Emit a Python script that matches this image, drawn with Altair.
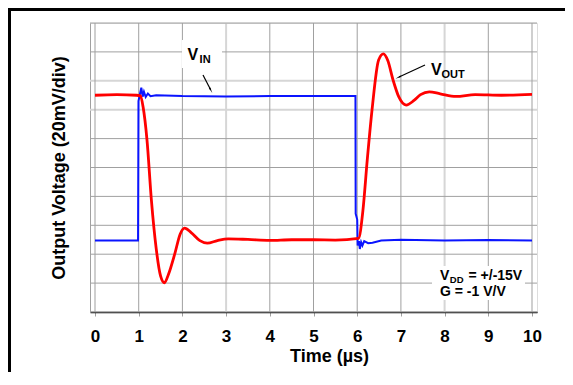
import altair as alt
import pandas as pd

# ---- data (time in µs, voltage in divisions of 20 mV) ----
t_out = [0.0, 0.5, 0.95, 1.04, 1.10, 1.19, 1.29, 1.40, 1.50, 1.59, 1.68, 1.83, 1.95, 2.05,
         2.20, 2.40, 2.57, 2.80, 3.05, 3.50, 4.00, 4.50, 5.00, 5.50, 6.03, 6.13, 6.23, 6.34,
         6.49, 6.60, 6.70, 6.82, 6.95, 7.12, 7.30, 7.45, 7.65, 7.90, 8.26, 8.70, 9.30, 10.0]
v_out = [7.50, 7.52, 7.50, 7.48, 7.10, 5.95, 3.88, 2.20, 1.25, 1.01, 1.30, 2.04, 2.70, 2.90,
         2.75, 2.47, 2.38, 2.47, 2.53, 2.51, 2.48, 2.50, 2.50, 2.49, 2.55, 3.50, 5.26, 7.00,
         8.72, 8.93, 8.70, 8.03, 7.45, 7.16, 7.32, 7.52, 7.62, 7.55, 7.46, 7.52, 7.50, 7.53]

t_in = [0.0, 0.50, 0.985, 0.995, 1.03, 1.06, 1.09, 1.12, 1.16, 1.21, 1.27, 1.40, 2.00, 3.00,
        4.00, 5.00, 5.96, 5.965, 6.00, 6.01, 6.04, 6.06, 6.09, 6.12, 6.16, 6.25, 6.35, 6.55,
        7.00, 8.00, 9.00, 10.0]
v_in = [2.47, 2.47, 2.47, 7.30, 7.55, 7.76, 7.45, 7.62, 7.44, 7.56, 7.47, 7.50, 7.47, 7.46,
        7.47, 7.47, 7.47, 3.40, 3.20, 2.30, 2.45, 2.18, 2.42, 2.30, 2.45, 2.38, 2.40, 2.47,
        2.50, 2.47, 2.49, 2.47]

x_ticks = list(range(11))
y_ticks = list(range(11))
x_light = [3, 8]
y_light = [7, 8]

x_title = "Time (µs)"
y_title = "Output Voltage (20mV/div)"

FONT = "Liberation Sans"
GRID = "#a0a0a0"
LIGHT = "#d6d6d6"
W, H = 447, 289

out_df = pd.DataFrame({"t": t_out, "v": v_out})
in_df = pd.DataFrame({"t": t_in, "v": v_in})

xscale = alt.Scale(domain=[0, 10], nice=False, zero=False)
yscale = alt.Scale(domain=[0, 10], nice=False, zero=False)

x_axis = alt.Axis(
    values=x_ticks, format="d", labelFlush=False, labelOverlap=False, grid=False,
    labelFont=FONT, labelFontSize=17, labelFontWeight="bold", labelColor="black",
    labelPadding=12, tickSize=4, tickColor=GRID,
    domainColor="black", domainWidth=1.5,
    title=x_title, titleFont=FONT, titleFontSize=18, titleFontWeight="bold", titleColor="black",
    titleX=239, titleY=49, titleBaseline="alphabetic", titleAlign="center",
)
y_axis = alt.Axis(
    values=y_ticks, labels=False, ticks=False, grid=False,
    domainColor=GRID, domainWidth=1,
    title=y_title, titleFont=FONT, titleFontSize=18, titleFontWeight="bold", titleColor="black",
    titlePadding=22,
)

vdark = [v for v in x_ticks if v not in x_light]
hdark = [v for v in y_ticks if v not in y_light]

def vgrid(vals, color, w):
    return alt.Chart(pd.DataFrame({"gx": vals})).mark_bar(color=color, size=w, opacity=1).encode(
        x=alt.X("gx:Q", scale=xscale), y=alt.value(0), y2=alt.value(H))

def hgrid(vals, color, w):
    return alt.Chart(pd.DataFrame({"hy": vals})).mark_rule(color=color, strokeWidth=w).encode(
        y=alt.Y("hy:Q", scale=yscale), x=alt.value(0), x2=alt.value(W))

vin_line = alt.Chart(in_df).mark_line(color="#0a14ff", strokeWidth=2).encode(
    x=alt.X("t:Q", scale=xscale, axis=x_axis),
    y=alt.Y("v:Q", scale=yscale, axis=y_axis),
    order="t:Q",
)
vout_line = alt.Chart(out_df).mark_line(color="#ff0000", strokeWidth=2.8, interpolate="monotone").encode(
    x=alt.X("t:Q", scale=xscale),
    y=alt.Y("v:Q", scale=yscale),
    order="t:Q",
)

_n = [0]
def one():
    _n[0] += 1
    return pd.DataFrame({"k": [_n[0]]})

def box(x1, x2, y1, y2):
    return alt.Chart(one()).mark_rect(color="white").encode(
        x=alt.value(x1), x2=alt.value(x2), y=alt.value(y1), y2=alt.value(y2))

def txt(s, x, y, size):
    return alt.Chart(one()).mark_text(
        text=s, align="left", baseline="alphabetic", font=FONT, fontWeight="bold",
        fontSize=size, color="black").encode(x=alt.value(x), y=alt.value(y))

def seg(x1, y1, x2, y2, w=1.2, color="black"):
    return alt.Chart(one()).mark_rule(color=color, strokeWidth=w).encode(
        x=alt.value(x1), y=alt.value(y1), x2=alt.value(x2), y2=alt.value(y2))

def head(x, y, ang):
    return alt.Chart(one()).mark_point(shape="wedge", filled=True, color="black", size=45,
                                     angle=ang, opacity=1).encode(x=alt.value(x), y=alt.value(y))

layers = [
    vgrid(x_light, LIGHT, 2), hgrid(y_light, LIGHT, 2),
    vgrid(vdark, GRID, 1), hgrid(hdark, GRID, 1),
    box(92, 132, 17, 45),
    box(342, 435, 243, 277),
    vin_line,
    vout_line,
    txt("V", 97.5, 37, 16), txt("IN", 109.6, 40.3, 11),
    seg(113, 52, 120.5, 66.5), head(120.5, 66.5, 152),
    txt("V", 341, 52, 16), txt("OUT", 351.5, 55.3, 11),
    seg(335, 42, 309, 54), head(309, 54, 245),
    txt("V", 350, 257, 14), txt("DD", 359.8, 259.5, 9.5), txt("= +/-15V", 378.5, 257, 14),
    txt("G = -1 V/V", 350, 273, 14),
    seg(-82, -13.5, 475, -13.5, w=3),
    seg(-80.5, -15, -80.5, 349, w=3),
]

chart = alt.layer(*layers).properties(
    width=W, height=H,
    autosize=alt.AutoSizeParams(type="none"),
    padding={"left": 82, "top": 15, "right": 28, "bottom": 60},
).configure_view(stroke=None).configure(background="white")

chart.save("out.html", embed_options={"renderer": "svg", "actions": False})
